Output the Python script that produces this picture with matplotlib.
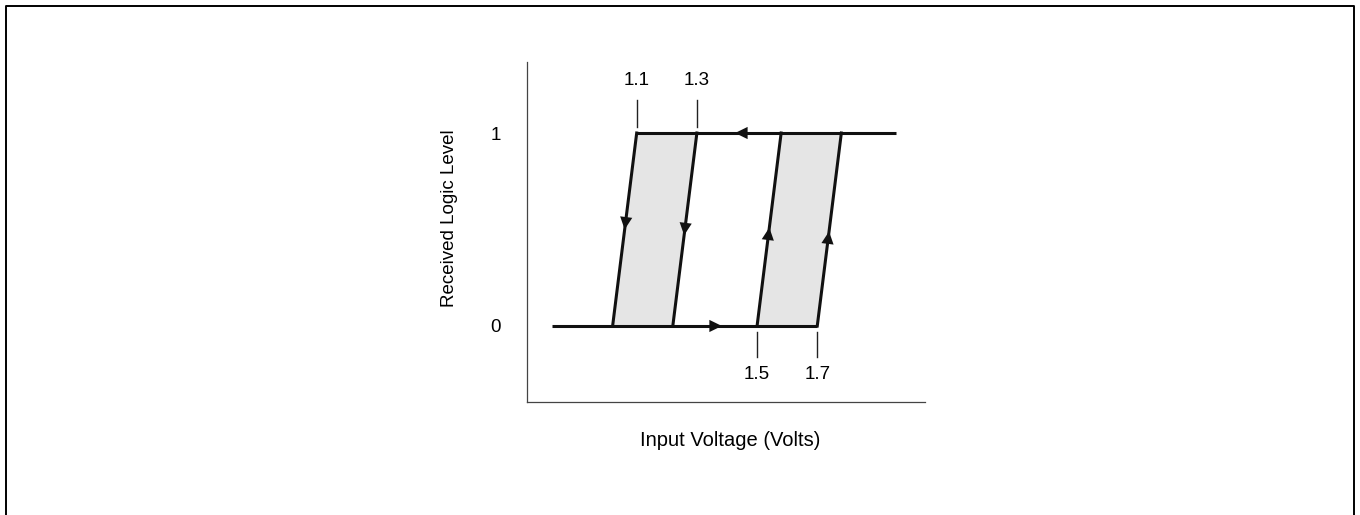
import matplotlib
matplotlib.use('Agg')
import matplotlib.pyplot as plt
from matplotlib.lines import Line2D

plt.rcParams['font.family'] = ['Liberation Sans', 'DejaVu Sans']

# thresholds (volts) and logic levels
high_to_low = [1.1, 1.3]   # 1 -> 0 transitions
low_to_high = [1.5, 1.7]   # 0 -> 1 transitions
levels = [0, 1]
slant = 0.08               # drawn slope of the transitions
sweep_start, sweep_end = 0.82, 1.96
threshold_labels = ['1.1', '1.3', '1.5', '1.7']

fig = plt.figure(figsize=(13.6, 5.15), dpi=100)
ax = fig.add_axes([527 / 1360, 113 / 515, 398 / 1360, 340 / 515])
ax.set_xlim(0.7355, 2.058)
ax.set_ylim(-0.394, 1.368)

lo, hi = levels
fill_c = '#e5e5e5'
lw = 2.2
fs = 13.5

# shaded hysteresis bands
a, b = high_to_low[0] - slant, high_to_low[1] - slant
ax.fill([a, b, b + slant, a + slant], [lo, lo, hi, hi], color=fill_c, lw=0, zorder=1)
a, b = low_to_high
ax.fill([a, b, b + slant, a + slant], [lo, lo, hi, hi], color=fill_c, lw=0, zorder=1)

# horizontal levels
ax.plot([sweep_start, low_to_high[1]], [lo, lo], color='#111', lw=lw, zorder=2,
        solid_capstyle='butt')
ax.plot([high_to_low[0], sweep_end], [hi, hi], color='#111', lw=lw, zorder=2,
        solid_capstyle='butt')

# slanted transitions
edges = [(v - slant, v) for v in high_to_low] + [(v, v + slant) for v in low_to_high]
for xb, xt in edges:
    ax.plot([xb, xt], [lo, hi], color='#111', lw=lw, zorder=2)

arrow_kw = dict(arrowstyle='-|>,head_length=0.45,head_width=0.22', color='#111',
                lw=0, mutation_scale=20, shrinkA=0, shrinkB=0)

def edge_x(xb, xt, t):
    return xb + t * (xt - xb)

# arrows on transitions (down on left band, up on right band)
for (xb, xt), tip, d in zip(edges, [0.50, 0.47, 0.51, 0.49], [-1, -1, 1, 1]):
    tail = tip - d * 0.08
    ax.annotate('', xy=(edge_x(xb, xt, tip), tip), xytext=(edge_x(xb, xt, tail), tail),
                arrowprops=arrow_kw, zorder=3)
# arrows on the levels
ax.annotate('', xy=(1.427, hi), xytext=(1.47, hi), arrowprops=arrow_kw, zorder=3)
ax.annotate('', xy=(1.383, lo), xytext=(1.34, lo), arrowprops=arrow_kw, zorder=3)

# threshold markers and labels
thresholds = high_to_low + low_to_high
for i, (v, lab) in enumerate(zip(thresholds, threshold_labels)):
    if i < 2:
        ax.plot([v, v], [1.03, 1.17], color='#222', lw=1, zorder=2)
        ax.text(v, 1.27, lab, ha='center', va='center', fontsize=fs)
    else:
        ax.plot([v, v], [-0.03, -0.16], color='#222', lw=1, zorder=2)
        ax.text(v, -0.25, lab, ha='center', va='center', fontsize=fs)

# axes styling
for s in ['top', 'right']:
    ax.spines[s].set_visible(False)
for s in ['left', 'bottom']:
    ax.spines[s].set_color('#444')
    ax.spines[s].set_linewidth(0.9)
ax.set_xticks([])
ax.set_yticks(levels)
ax.set_yticklabels([str(l) for l in levels], fontsize=fs)
ax.tick_params(axis='y', length=0, pad=19)

fig.text(449 / 1360, 1 - 218 / 515, 'Received Logic Level', rotation=90,
         ha='center', va='center', fontsize=fs)
fig.text(730 / 1360, 1 - 440 / 515, 'Input Voltage (Volts)', ha='center',
         va='center', fontsize=14.5)

# outer frame (left, top, right)
bx0, bx1, by = 5.5 / 1360, 1353.5 / 1360, 1 - 5.5 / 515
fig.add_artist(Line2D([bx0, bx0, bx1, bx1], [0, by, by, 0], color='black', lw=1.4,
                      transform=fig.transFigure))

fig.savefig('out.png', dpi=100)
